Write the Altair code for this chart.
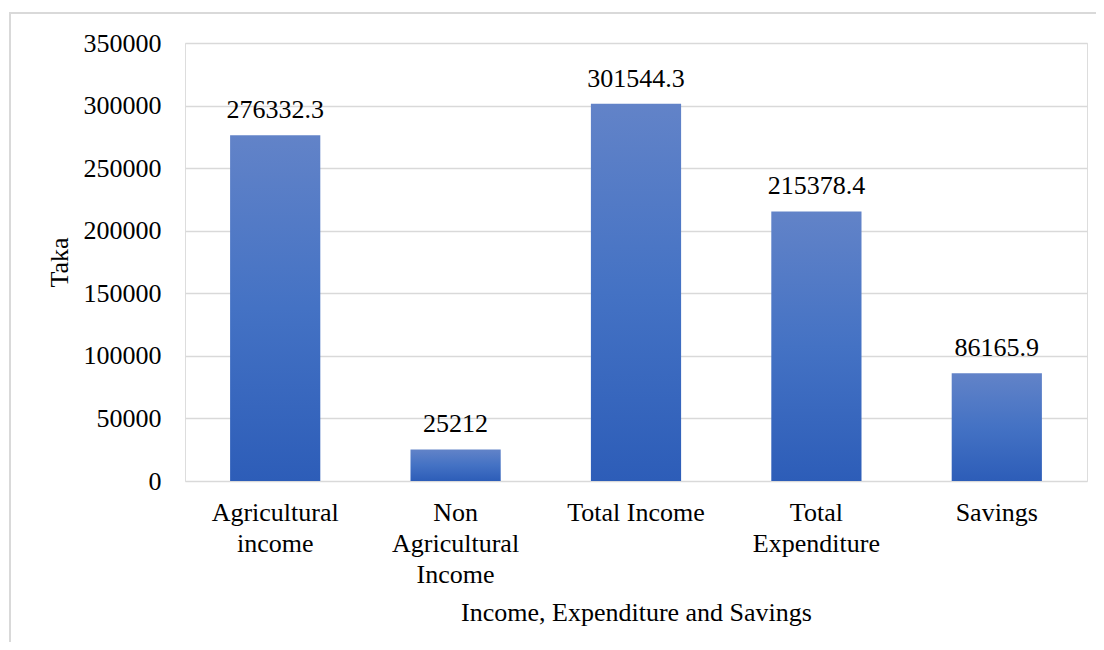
import altair as alt
import pandas as pd

categories = ["Agricultural income", "Non Agricultural Income", "Total Income",
              "Total Expenditure", "Savings"]
label_lines = [["Agricultural", "income"], ["Non", "Agricultural", "Income"],
               ["Total Income"], ["Total", "Expenditure"], ["Savings"]]
values = [276332.3, 25212, 301544.3, 215378.4, 86165.9]
value_labels = ["276332.3", "25212", "301544.3", "215378.4", "86165.9"]
y_ticks = [0, 50000, 100000, 150000, 200000, 250000, 300000, 350000]

df = pd.DataFrame({"cat": categories, "val": values, "lab": value_labels})

FONT = "Liberation Serif, Times New Roman, serif"
mapping = "{" + ", ".join(
    "'" + c + "': [" + ", ".join("'" + l + "'" for l in ls) + "]"
    for c, ls in zip(categories, label_lines)) + "}"

x = alt.X("cat:N", sort=categories, title="Income, Expenditure and Savings",
          scale=alt.Scale(paddingInner=0.5, paddingOuter=0.25),
          axis=alt.Axis(labelAngle=0, labelExpr=mapping + "[datum.label]",
                        labelFont=FONT, labelFontSize=26, labelColor="#000000",
                        labelLineHeight=31, labelPadding=18, labelBaseline="top",
                        ticks=False, domain=False, grid=False,
                        titleFont=FONT, titleFontSize=26, titleFontWeight="normal",
                        titleColor="#000000", titlePadding=12))
y = alt.Y("val:Q", title="Taka",
          scale=alt.Scale(domain=[0, 350000], nice=False),
          axis=alt.Axis(values=y_ticks, format="d", labelFont=FONT, labelFontSize=26,
                        labelColor="#000000", labelPadding=24, ticks=False,
                        domain=False, gridColor="#d9d9d9", gridWidth=1.5,
                        titleFont=FONT, titleFontSize=26, titleFontWeight="normal",
                        titleColor="#000000", titlePadding=11))

grad = alt.Gradient(gradient="linear",
                    stops=[alt.GradientStop(color="#6283c8", offset=0),
                           alt.GradientStop(color="#4472c4", offset=0.5),
                           alt.GradientStop(color="#2d5db8", offset=1)],
                    x1=0, x2=0, y1=0, y2=1)

base = alt.Chart(df)
bars = base.mark_bar(color=grad).encode(x=x, y=y)
texts = base.mark_text(font=FONT, fontSize=26, color="#000000", baseline="alphabetic",
                       dy=-17).encode(x=alt.X("cat:N", sort=categories), y="val:Q",
                                      text="lab:N")

one = alt.Chart(pd.DataFrame({"a": [0]}))
left_border = one.mark_rule(color="#d9d9d9", strokeWidth=2).encode(
    x=alt.value(-175), y=alt.value(-30), y2=alt.value(600))
top_border = one.mark_rule(color="#d9d9d9", strokeWidth=2).encode(
    x=alt.value(-176), x2=alt.value(912), y=alt.value(-30))

chart = alt.layer(bars, texts, left_border, top_border).properties(
    width=902, height=438,
    autosize=alt.AutoSizeParams(type="none"),
    padding={"left": 177, "top": 35, "right": 9, "bottom": 161},
).configure_view(stroke=None).configure(background="white")

chart.save("out.html", embed_options={"renderer": "svg", "actions": False})
